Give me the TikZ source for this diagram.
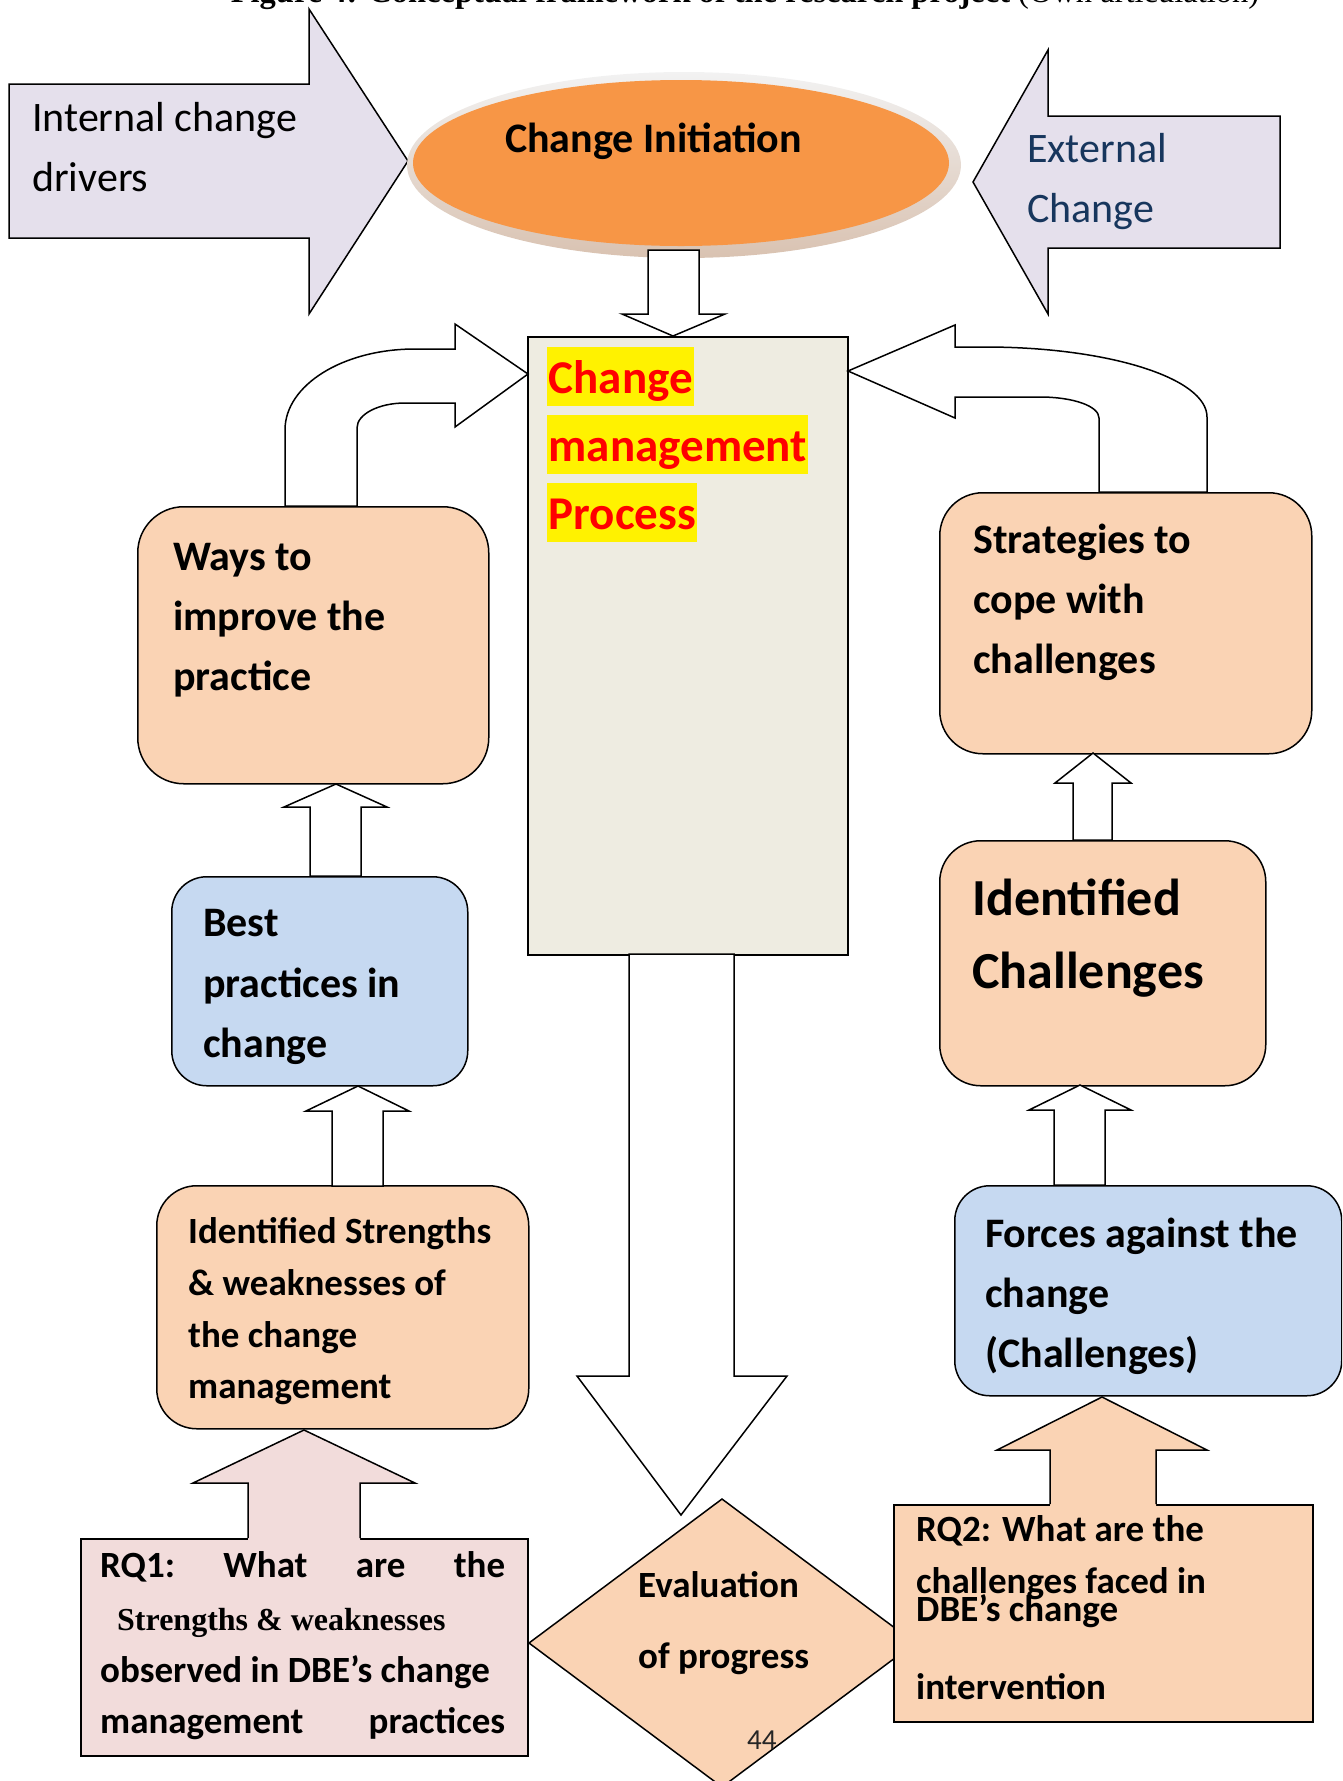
\documentclass[tikz,border=0pt]{standalone}
\usepackage{fontspec}
\setmainfont{Carlito}
\newfontfamily\timesf{Liberation Serif}
\usetikzlibrary{shapes.geometric}
\definecolor{lav}{HTML}{E5E0EC}
\definecolor{orng}{HTML}{F79646}
\definecolor{peach}{HTML}{FAD3B4}
\definecolor{lblue}{HTML}{C6D9F1}
\definecolor{pinkf}{HTML}{F2DCDB}
\definecolor{tanbg}{HTML}{EEECE1}
\definecolor{navy}{HTML}{17365D}
\definecolor{ringtop}{HTML}{F2F2F2}
\definecolor{ringbot}{HTML}{D9C2B1}
\begin{document}
\begin{tikzpicture}[x=1pt,y=-1pt,
  shp/.style={draw=black, line width=1.5pt, line join=miter},
  rbox/.style={shp, anchor=north west, inner sep=0pt},
  txt/.style={inner sep=0pt, anchor=base west, font=\fontsize{42}{50}\selectfont\bfseries},
  txs/.style={txt, font=\fontsize{37}{45}\selectfont\bfseries},
  txr/.style={txt, font=\fontsize{42}{50}\selectfont},
  txc/.style={txt, font=\fontsize{47}{50}\selectfont\bfseries, text=red, fill=yellow,
              text height=46pt, text depth=13pt, inner xsep=1.5pt},
  wfill/.style={shp, fill=white}]
\useasboundingbox (0,0) rectangle (1342,1781);
\clip (0,0) rectangle (1342,1781);

% title (cut off at the top)
\node[inner sep=0pt, anchor=base, font=\fontsize{32.5}{36}\selectfont\timesf] (title) at (745,2)
  {\textbf{Figure 4: Conceptual framework of the research project} (Own articulation)};

% side block arrows
\draw[shp, fill=lav] (9,84) -- (309,84) -- (309,9) -- (408,161) -- (309,314) -- (309,238) -- (9,238) -- cycle;
\draw[shp, fill=lav] (1280,116) -- (1048,116) -- (1048,50) -- (973,182) -- (1048,314) -- (1048,248) -- (1280,248) -- cycle;
\node[txr] (int1) at (32,131) {Internal change};
\node[txr] (int2) at (32,191) {drivers};
\node[txr, text=navy] (ext1) at (1027,162) {External};
\node[txr, text=navy] (ext2) at (1027,222) {Change};

% change initiation ellipse
\node[ellipse, minimum width=554pt, minimum height=186pt, inner sep=0pt,
      top color=ringtop, bottom color=ringbot] (ring) at (684,165) {};
\node[ellipse, fill=orng, minimum width=536pt, minimum height=166pt, inner sep=0pt] (init) at (681,163) {};
\node[txt] (inittxt) at (505,152) {Change Initiation};

% central process box
\node[rbox, fill=tanbg, minimum width=320pt, minimum height=618pt] (proc) at (527,336) {};
\draw[wfill] (648,250) -- (699,250) -- (699,314) -- (725,314) -- (673,336) -- (622,314) -- (648,314) -- cycle;
\node[txc] (p1) at (547,393) {Change};
\node[txc] (p2) at (547,461) {management};
\node[txc] (p3) at (547,529) {Process};

% curved arrows to the process box
\draw[wfill] (285,506) -- (285,430) .. controls (285,385) and (343,349) .. (415,349) -- (455,349)
  -- (455,324) -- (528,374) -- (455,427) -- (455,403) -- (405,403)
  .. controls (379,403) and (357,414) .. (357,428) -- (357,506) -- cycle;
\draw[wfill] (1207,492) -- (1207,417) .. controls (1207,378) and (1108,347) .. (985,347) -- (955,347)
  -- (955,325) -- (848,371) -- (955,418) -- (955,397) -- (1040,397)
  .. controls (1073,397) and (1099,406) .. (1099,418) -- (1099,492) -- cycle;

% left column
\node[rbox, fill=peach, rounded corners=46pt, minimum width=351pt, minimum height=277pt] (ways) at (137,506) {};
\node[rbox, fill=lblue, rounded corners=35pt, minimum width=296pt, minimum height=209pt] (best) at (171,876) {};
\node[rbox, fill=peach, rounded corners=40pt, minimum width=372pt, minimum height=243pt] (stren) at (156,1185) {};
\draw[wfill] (310,876) -- (310,807) -- (284,807) -- (336,784) -- (387,807) -- (361,807) -- (361,876) -- cycle;
\draw[wfill] (332,1186) -- (332,1111) -- (306,1111) -- (358,1086) -- (409,1111) -- (383,1111) -- (383,1186) -- cycle;

% right column
\node[rbox, fill=peach, rounded corners=43pt, minimum width=372pt, minimum height=261pt] (strat) at (939,492) {};
\node[rbox, fill=peach, rounded corners=41pt, minimum width=326pt, minimum height=245pt] (chal) at (939,840) {};
\node[rbox, fill=lblue, rounded corners=35pt, minimum width=387pt, minimum height=210pt] (forces) at (954,1185) {};
\draw[wfill] (1073,840) -- (1073,783) -- (1055,783) -- (1093,753) -- (1131,783) -- (1112,783) -- (1112,840) -- cycle;
\draw[wfill] (1054,1185) -- (1054,1110) -- (1029,1110) -- (1080,1085) -- (1131,1110) -- (1105,1110) -- (1105,1185) -- cycle;

% big down arrow
\draw[wfill] (629,954) -- (629,1376) -- (577,1376) -- (681,1515) -- (787,1376) -- (734,1376) -- (734,954) -- cycle;

% evaluation diamond
\draw[shp, fill=peach] (722,1499) coordinate (evaltop) -- (915,1643) -- (722,1787) -- (529,1643) -- cycle;

% research question boxes
\node[rbox, fill=pinkf, minimum width=447pt, minimum height=217pt] (rq1) at (80,1538) {};
\node[rbox, fill=peach, minimum width=419pt, minimum height=217pt] (rq2) at (893,1504) {};
\fill[pinkf] (248,1541) -- (248,1483) -- (193,1483) -- (304,1430) -- (415,1483) -- (360,1483) -- (360,1541) -- cycle;
\draw[shp] (248,1538) -- (248,1483) -- (193,1483) -- (304,1430) -- (415,1483) -- (360,1483) -- (360,1538);
\fill[peach] (1050,1507) -- (1050,1450) -- (997,1450) -- (1102,1397) -- (1207,1450) -- (1156,1450) -- (1156,1507) -- cycle;
\draw[shp] (1050,1504) -- (1050,1450) -- (997,1450) -- (1102,1397) -- (1207,1450) -- (1156,1450) -- (1156,1504);

% texts
\node[txt] (w1) at (173,570) {Ways to};
\node[txt] (w2) at (173,630) {improve the};
\node[txt] (w3) at (173,690) {practice};
\node[txt] (b1) at (203,936) {Best};
\node[txt] (b2) at (203,997) {practices in};
\node[txt] (b3) at (203,1057) {change};
\node[txs] (s1) at (188,1243) {Identified Strengths};
\node[txs] (s2) at (188,1295) {\& weaknesses of};
\node[txs] (s3) at (188,1347) {the change};
\node[txs] (s4) at (188,1398) {management};
\node[txt] (t1) at (973,553) {Strategies to};
\node[txt] (t2) at (973,613) {cope with};
\node[txt] (t3) at (973,673) {challenges};
\node[txt, font=\fontsize{52}{60}\selectfont\bfseries] (c1) at (972,915) {Identified};
\node[txt, font=\fontsize{52}{60}\selectfont\bfseries] (c2) at (972,988) {Challenges};
\node[txt] (f1) at (985,1247) {Forces against the};
\node[txt] (f2) at (985,1307) {change};
\node[txt] (f3) at (985,1367) {(Challenges)};
\node[txs] (e1) at (638,1597) {Evaluation};
\node[txs] (e2) at (638,1668) {of progress};
\node[txs] (q11) at (100,1577) {\hbox to 405pt{RQ1:\hfil What\hfil are\hfil the}};
\node[txt, font=\fontsize{32}{36}\selectfont\timesf\bfseries] (q12) at (117,1630) {Strengths \& weaknesses};
\node[txs] (q13) at (100,1682) {observed in DBE’s change};
\node[txs] (q14) at (100,1733) {\hbox to 405pt{management\hfil practices}};
\node[txs] (q21) at (916,1541) {RQ2: What are the};
\node[txs] (q22) at (916,1593) {challenges faced in};
\node[txs] (q23) at (916,1621) {DBE’s change};
\node[txs] (q24) at (916,1699) {intervention};
\node[txt, font=\fontsize{29}{32}\selectfont, text=black!85] (pg) at (747,1749) {44};
\end{tikzpicture}
\end{document}
